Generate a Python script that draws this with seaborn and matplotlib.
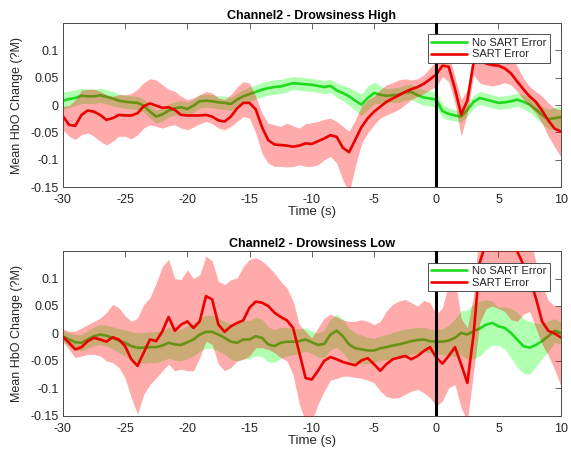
import numpy as np
import matplotlib
matplotlib.use("Agg")
import matplotlib.pyplot as plt
import seaborn as sns

# ---------------- data ----------------
time_s = np.linspace(-30, 10, 81)

# Top panel: Drowsiness High
high_noerr_mean = [0.008, 0.011, 0.013, 0.017, 0.016, 0.016, 0.018, 0.015, 0.012, 0.008,
                   0.006, 0.005, 0.004, -0.001, -0.012, -0.021, -0.017, -0.010, -0.006, -0.004,
                   -0.007, -0.001, 0.007, 0.008, 0.007, 0.005, 0.004, 0.002, 0.010, 0.016,
                   0.020, 0.024, 0.028, 0.031, 0.033, 0.034, 0.037, 0.040, 0.039, 0.038,
                   0.037, 0.035, 0.033, 0.035, 0.027, 0.022, 0.016, 0.008, 0.001, 0.013,
                   0.022, 0.019, 0.017, 0.018, 0.019, 0.023, 0.024, 0.018, 0.014, 0.012,
                   0.010, -0.011, -0.016, -0.019, -0.021, -0.009, 0.006, 0.013, 0.010, 0.007,
                   0.004, 0.005, 0.007, 0.010, 0.006, 0.001, -0.008, -0.018, -0.026, -0.024,
                   -0.022]
high_noerr_err = [0.016, 0.015, 0.014, 0.014, 0.013, 0.013, 0.013, 0.013, 0.013, 0.012, 0.012,
                  0.012, 0.012, 0.012, 0.012, 0.012, 0.012, 0.012, 0.012, 0.012, 0.012,
                  0.012, 0.012, 0.012, 0.012, 0.012, 0.012, 0.012, 0.012, 0.012, 0.013,
                  0.013, 0.013, 0.013, 0.013, 0.013, 0.013, 0.012, 0.012, 0.012, 0.012,
                  0.012, 0.012, 0.012, 0.013, 0.014, 0.016, 0.018, 0.020, 0.022, 0.020,
                  0.016, 0.013, 0.013, 0.014, 0.014, 0.014, 0.014, 0.014, 0.014, 0.014,
                  0.012, 0.011, 0.010, 0.010, 0.011, 0.012, 0.012, 0.012, 0.012, 0.012,
                  0.012, 0.012, 0.012, 0.013, 0.014, 0.015, 0.016, 0.018, 0.020, 0.020]
high_err_mean = [-0.020, -0.036, -0.038, -0.018, -0.010, -0.012, -0.018, -0.027, -0.024, -0.018,
                 -0.019, -0.019, -0.015, -0.002, 0.003, -0.001, -0.005, -0.004, -0.009, -0.018,
                 -0.019, -0.019, -0.019, -0.018, -0.021, -0.028, -0.030, -0.021, -0.006, 0.004,
                 0.004, -0.008, -0.040, -0.064, -0.072, -0.073, -0.074, -0.076, -0.074, -0.070,
                 -0.071, -0.066, -0.061, -0.055, -0.058, -0.078, -0.086, -0.063, -0.040, -0.024,
                 -0.012, -0.003, 0.006, 0.012, 0.018, 0.024, 0.029, 0.033, 0.039, 0.047,
                 0.056, 0.072, 0.070, 0.030, -0.017, 0.008, 0.078, 0.085, 0.076, 0.073,
                 0.072, 0.067, 0.058, 0.043, 0.029, 0.016, 0.006, -0.010, -0.028, -0.043,
                 -0.048]
high_err_upper = [-0.002, -0.001, 0.010, 0.027, 0.029, 0.029, 0.025, 0.019, 0.016, 0.019,
                  0.019, 0.021, 0.029, 0.041, 0.048, 0.046, 0.037, 0.029, 0.025, 0.016,
                  0.010, 0.013, 0.019, 0.025, 0.022, 0.013, 0.010, 0.019, 0.033, 0.043,
                  0.040, 0.016, -0.015, -0.033, -0.036, -0.039, -0.033, -0.038, -0.042, -0.034,
                  -0.032, -0.030, -0.026, -0.024, -0.030, -0.039, -0.048, -0.027, -0.002, 0.010,
                  0.016, 0.028, 0.037, 0.041, 0.046, 0.048, 0.046, 0.048, 0.055, 0.068,
                  0.080, 0.092, 0.092, 0.052, 0.010, 0.028, 0.100, 0.105, 0.107, 0.107,
                  0.100, 0.100, 0.092, 0.071, 0.049, 0.034, 0.025, 0.016, 0.004, -0.006,
                  -0.009]
high_err_lower = [-0.045, -0.057, -0.063, -0.054, -0.051, -0.057, -0.066, -0.073, -0.066, -0.057,
                  -0.057, -0.062, -0.054, -0.042, -0.036, -0.039, -0.042, -0.038, -0.036, -0.042,
                  -0.045, -0.040, -0.034, -0.030, -0.034, -0.042, -0.045, -0.039, -0.030, -0.021,
                  -0.024, -0.051, -0.088, -0.106, -0.112, -0.112, -0.113, -0.112, -0.109, -0.112,
                  -0.112, -0.109, -0.100, -0.094, -0.106, -0.137, -0.160, -0.112, -0.070, -0.051,
                  -0.036, -0.024, -0.018, -0.013, -0.008, 0.001, 0.010, 0.016, 0.021, 0.028,
                  0.034, 0.052, 0.043, 0.004, -0.057, -0.015, 0.055, 0.040, 0.037, 0.035,
                  0.037, 0.041, 0.037, 0.025, 0.010, -0.002, -0.015, -0.033, -0.057, -0.076,
                  -0.094]

# Bottom panel: Drowsiness Low
low_noerr_mean = [-0.005, -0.011, -0.016, -0.017, -0.011, -0.005, -0.002, -0.004, -0.008, -0.013,
                  -0.017, -0.023, -0.026, -0.026, -0.025, -0.025, -0.022, -0.017, -0.020, -0.021,
                  -0.016, -0.011, -0.002, 0.003, 0.003, -0.002, -0.008, -0.015, -0.017, -0.011,
                  -0.011, -0.005, -0.008, -0.020, -0.023, -0.017, -0.015, -0.015, -0.014, -0.011,
                  -0.016, -0.021, -0.019, -0.002, 0.005, -0.005, -0.020, -0.027, -0.029, -0.031,
                  -0.031, -0.027, -0.025, -0.022, -0.020, -0.017, -0.014, -0.012, -0.011, -0.014,
                  -0.015, -0.015, -0.013, -0.008, 0.001, -0.002, 0.004, 0.009, 0.016, 0.019,
                  0.013, 0.010, 0.001, -0.011, -0.023, -0.026, -0.021, -0.014, -0.005, 0.005,
                  0.001]
low_noerr_err = [0.010, 0.012, 0.014, 0.015, 0.016, 0.017, 0.018, 0.019, 0.020, 0.022, 0.024,
                 0.026, 0.027, 0.028, 0.028, 0.028, 0.028, 0.028, 0.029, 0.029, 0.030,
                 0.030, 0.030, 0.030, 0.030, 0.030, 0.030, 0.032, 0.034, 0.035, 0.035,
                 0.035, 0.034, 0.032, 0.030, 0.028, 0.026, 0.024, 0.022, 0.021, 0.020,
                 0.022, 0.025, 0.028, 0.030, 0.030, 0.030, 0.028, 0.026, 0.024, 0.022,
                 0.022, 0.023, 0.024, 0.025, 0.025, 0.024, 0.023, 0.022, 0.022, 0.022,
                 0.024, 0.028, 0.034, 0.040, 0.045, 0.050, 0.050, 0.045, 0.040, 0.035,
                 0.038, 0.045, 0.050, 0.050, 0.048, 0.040, 0.032, 0.028, 0.022, 0.020]
low_err_mean = [-0.006, -0.017, -0.029, -0.025, -0.014, -0.008, -0.011, -0.015, -0.007, -0.011,
                -0.023, -0.047, -0.059, -0.035, -0.011, -0.014, 0.004, 0.030, 0.005, 0.016,
                0.022, 0.010, 0.022, 0.068, 0.062, 0.016, 0.003, 0.013, 0.019, 0.024,
                0.047, 0.058, 0.056, 0.050, 0.038, 0.030, 0.024, 0.010, -0.035, -0.081,
                -0.084, -0.068, -0.050, -0.043, -0.047, -0.052, -0.055, -0.058, -0.049, -0.045,
                -0.056, -0.068, -0.056, -0.047, -0.044, -0.041, -0.047, -0.041, -0.032, -0.025,
                -0.044, -0.055, -0.041, -0.025, -0.056, -0.090, -0.002, 0.130, 0.165, 0.175,
                0.175, 0.170, 0.165, 0.150, 0.125, 0.100, 0.065, 0.022, 0.005, 0.000,
                -0.007]
low_err_upper = [0.008, 0.004, 0.004, 0.010, 0.016, 0.022, 0.028, 0.038, 0.053, 0.047,
                 0.032, 0.022, 0.028, 0.053, 0.065, 0.092, 0.122, 0.135, 0.100, 0.098,
                 0.116, 0.100, 0.107, 0.141, 0.132, 0.095, 0.089, 0.098, 0.101, 0.122,
                 0.135, 0.138, 0.132, 0.122, 0.110, 0.095, 0.083, 0.059, 0.016, 0.004,
                 -0.008, 0.010, 0.028, 0.035, 0.030, 0.025, 0.022, 0.022, 0.025, 0.022,
                 0.016, 0.022, 0.041, 0.053, 0.059, 0.062, 0.056, 0.050, 0.060, 0.056,
                 0.035, 0.047, 0.092, 0.101, 0.028, 0.010, 0.070, 0.200, 0.220, 0.230,
                 0.230, 0.220, 0.210, 0.200, 0.190, 0.180, 0.130, 0.090, 0.060, 0.050,
                 0.050]
low_err_lower = [-0.014, -0.029, -0.044, -0.041, -0.038, -0.038, -0.041, -0.050, -0.053, -0.062,
                 -0.081, -0.117, -0.147, -0.111, -0.093, -0.081, -0.068, -0.056, -0.068, -0.065,
                 -0.068, -0.068, -0.044, -0.014, -0.020, -0.056, -0.068, -0.062, -0.050, -0.047,
                 -0.041, -0.026, -0.026, -0.029, -0.035, -0.044, -0.050, -0.075, -0.129, -0.160,
                 -0.160, -0.129, -0.105, -0.085, -0.082, -0.078, -0.078, -0.080, -0.082, -0.085,
                 -0.090, -0.105, -0.115, -0.118, -0.117, -0.111, -0.105, -0.102, -0.108, -0.117,
                 -0.132, -0.123, -0.099, -0.093, -0.135, -0.160, -0.070, 0.020, 0.045, 0.050,
                 0.045, 0.040, 0.025, 0.022, 0.035, 0.040, 0.010, -0.020, -0.040, -0.065,
                 -0.095]

titles = ["Channel2 - Drowsiness High", "Channel2 - Drowsiness Low"]
series_labels = ["No SART Error", "SART Error"]
x_ticks = [-30, -25, -20, -15, -10, -5, 0, 5, 10]
y_ticks = [-0.15, -0.1, -0.05, 0, 0.05, 0.1]
y_ticklabels = ["-0.15", "-0.1", "-0.05", "0", "0.05", "0.1"]
x_label = "Time (s)"
y_label = "Mean HbO Change (?M)"

for arr in [high_noerr_mean, high_noerr_err, high_err_mean, high_err_upper, high_err_lower,
            low_noerr_mean, low_noerr_err, low_err_mean, low_err_upper, low_err_lower]:
    assert len(arr) == 81, len(arr)

# ---------------- style ----------------
sns.set_style("white")
plt.rcParams["font.family"] = ["Liberation Sans", "DejaVu Sans"]
plt.rcParams["axes.unicode_minus"] = False

GREEN_LINE = (0.12, 0.86, 0.12)
GREEN_FILL = (0.2, 1.0, 0.2)
RED_LINE = (0.92, 0.0, 0.0)
RED_FILL = (1.0, 0.0, 0.0)
AX_COLOR = "#4a4a4a"

fig = plt.figure(figsize=(5.71, 4.5), dpi=100)
ax_top = fig.add_axes([0.110, 0.584, 0.872, 0.365])
ax_bot = fig.add_axes([0.110, 0.076, 0.872, 0.366])

panels = [
    (ax_top, titles[0], high_noerr_mean, high_noerr_err, high_err_mean, high_err_lower, high_err_upper),
    (ax_bot, titles[1], low_noerr_mean, low_noerr_err, low_err_mean, low_err_lower, low_err_upper),
]

for ax, title, gm, ge, rm, rl, ru in panels:
    gm = np.asarray(gm); ge = np.asarray(ge)
    ax.fill_between(time_s, gm - ge, gm + ge, color=GREEN_FILL, alpha=0.38, lw=0, zorder=1)
    sns.lineplot(x=time_s, y=gm, ax=ax, color=GREEN_LINE, lw=1.9, zorder=2, label=series_labels[0])
    ax.fill_between(time_s, rl, ru, color=RED_FILL, alpha=0.33, lw=0, zorder=3)
    sns.lineplot(x=time_s, y=rm, ax=ax, color=RED_LINE, lw=1.9, zorder=4, label=series_labels[1])
    ax.axvline(0, color="black", lw=2.2, zorder=5)

    ax.set_xlim(-30, 10)
    ax.set_ylim(-0.15, 0.15)
    ax.set_xticks(x_ticks)
    ax.set_xticklabels([str(v) for v in x_ticks])
    ax.set_yticks(y_ticks)
    ax.set_yticklabels(y_ticklabels)
    ax.tick_params(direction="in", length=4, width=0.6, colors=AX_COLOR,
                   labelcolor="#262626", labelsize=9, top=True, right=True, pad=3)
    ax.tick_params(axis="x", pad=5)
    for s in ax.spines.values():
        s.set_color(AX_COLOR)
        s.set_linewidth(0.7)
        s.set_visible(True)
    ax.set_title(title, fontsize=9, fontweight="bold", pad=3, color="black")
    ax.set_xlabel(x_label, fontsize=9.5, labelpad=0, color="#262626")
    ax.set_ylabel(y_label, fontsize=9, labelpad=5, color="#262626")

    leg = ax.legend(loc="upper right", bbox_to_anchor=(0.978, 0.93), fontsize=8,
                    frameon=True, fancybox=False, handlelength=3.2, handletextpad=0.5,
                    borderpad=0.3, labelspacing=0.15, borderaxespad=0)
    leg.get_frame().set_edgecolor("#333333")
    leg.get_frame().set_linewidth(0.6)
    leg.get_frame().set_alpha(1)
    leg.set_zorder(10)

fig.savefig("out.png", dpi=100)
